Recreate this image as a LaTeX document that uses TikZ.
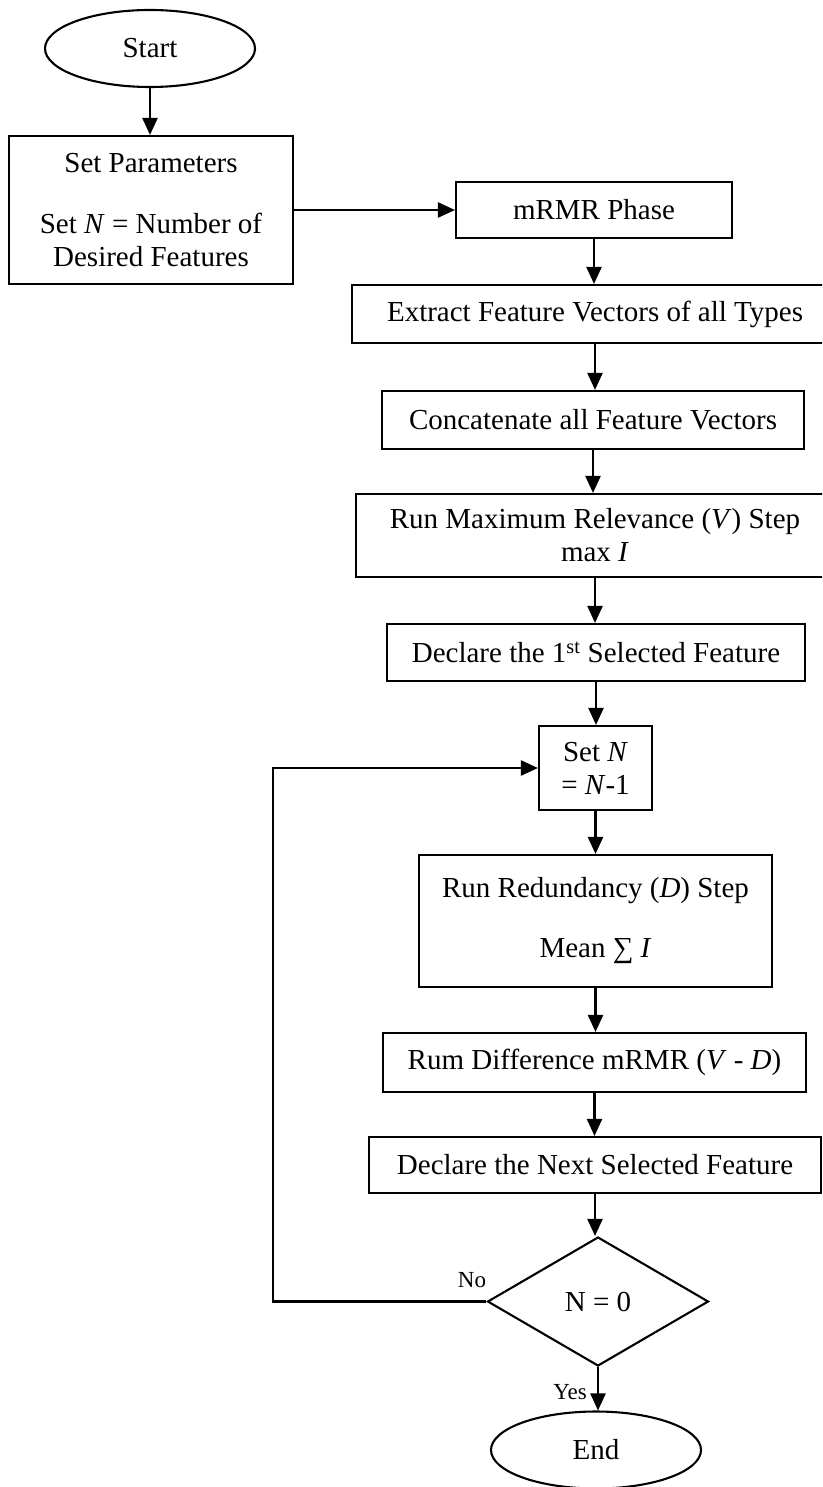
\documentclass[tikz,border=0pt]{standalone}
\usepackage{fontspec}
\setmainfont{Liberation Serif}
\usetikzlibrary{shapes.geometric,arrows.meta}
\newcommand\bodysize{\fontsize{29}{33}\selectfont}
\newcommand\labelsize{\fontsize{23}{26}\selectfont}
\begin{document}
\begin{tikzpicture}[x=1pt,y=-1pt,
  every node/.style={inner sep=0pt, font=\bodysize},
  stepbox/.style={draw, line width=2.1pt, rectangle, align=center},
  terminal/.style={draw, line width=2.1pt, ellipse, minimum width=210pt, minimum height=77pt},
  decision/.style={draw, line width=2.1pt, diamond, minimum width=221pt, minimum height=129pt},
  flow/.style={line width=2.3pt, -{Triangle[length=17pt,width=15pt]}},
  edgelabel/.style={font=\labelsize}]
\useasboundingbox (0,0) rectangle (822,1487);
\fill[white] (0,0) rectangle (822,1487);
\clip (0,0) rectangle (822,1487);

% terminals, process steps and the decision
\node[terminal] (start) at (150,48.5) {Start};
\node[stepbox, minimum width=284pt, minimum height=148pt] (params) at (151,210)
  {Set Parameters\\[28pt] Set \textit{N} = Number of\\ Desired Features};
\node[stepbox, minimum width=276pt, minimum height=56pt] (mrmr) at (594,210) {mRMR Phase};
\node[stepbox, minimum width=486pt, minimum height=58pt] (extract) at (595,314)
  {Extract Feature Vectors of all Types};
\node[stepbox, minimum width=422pt, minimum height=58pt] (concat) at (593,420)
  {Concatenate all Feature Vectors};
\node[stepbox, minimum width=478pt, minimum height=83pt] (relev) at (595,535.5)
  {Run Maximum Relevance (\textit{V}) Step\\ max \textit{I}};
\node[stepbox, minimum width=418pt, minimum height=57pt] (first) at (596,652.5)
  {Declare the 1\textsuperscript{st} Selected Feature};
\node[stepbox, minimum width=113pt, minimum height=84pt] (setn) at (595.5,768)
  {Set \textit{N}\\ = \textit{N}-1};
\node[stepbox, minimum width=353pt, minimum height=132pt] (redund) at (595.5,921)
  {Run Redundancy (\textit{D}) Step\\[27pt] Mean ∑ \textit{I}};
\node[stepbox, minimum width=423pt, minimum height=59pt] (diff) at (594.5,1062.5)
  {Rum Difference mRMR (\textit{V} - \textit{D})};
\node[stepbox, minimum width=452pt, minimum height=56pt] (next) at (595,1165)
  {Declare the Next Selected Feature};
\node[decision] (check) at (598,1301.5) {N = 0};
\node[terminal] (finish) at (596,1450) {End};

% main flow
\draw[flow] (start.south) -- (start.south |- params.north);
\draw[flow] (params.east) -- (mrmr.west);
\draw[flow] (mrmr.south) -- (mrmr.south |- extract.north);
\draw[flow] (extract.south) -- (extract.south |- concat.north);
\draw[flow] (concat.south) -- (concat.south |- relev.north);
\draw[flow] (relev.south) -- (relev.south |- first.north);
\draw[flow] (first.south) -- (first.south |- setn.north);
\draw[flow] (setn.south) -- (setn.south |- redund.north);
\draw[flow] (redund.south) -- (redund.south |- diff.north);
\draw[flow] (diff.south) -- (diff.south |- next.north);
\draw[flow] (next.south) -- (next.south |- check.north);
\draw[flow] (check.south) -- (check.south |- finish.north);

% loop back while N is not zero
\coordinate (loopcorner) at (273,1301.5);
\draw[flow] (check.west) -- (loopcorner) |- (setn.west);

\node[edgelabel] (nolabel) at (472,1280) {No};
\node[edgelabel] (yeslabel) at (570,1392) {Yes};
\end{tikzpicture}
\end{document}
